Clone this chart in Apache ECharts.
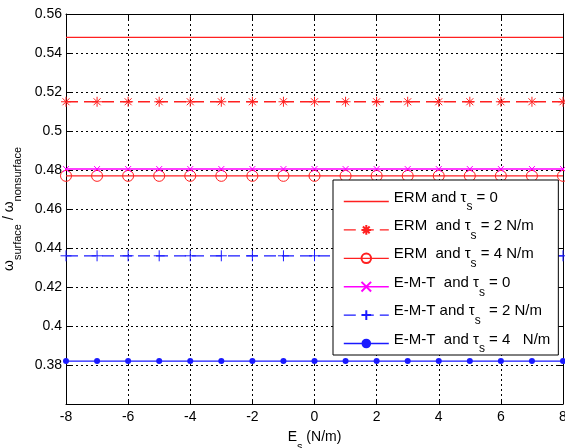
<!DOCTYPE html>
<html>
<head>
<meta charset="utf-8">
<script src="https://cdn.jsdelivr.net/npm/echarts@6/dist/echarts.min.js"></script>
<style>html,body{margin:0;padding:0;background:#fff;}#c{width:565px;height:448px;}</style>
</head>
<body>
<div id="c"></div>
<script>
const xValues = [-8, -7, -6, -5, -4, -3, -2, -1, 0, 1, 2, 3, 4, 5, 6, 7, 8];
const ermTau0 = [0.548, 0.548, 0.548, 0.548, 0.548, 0.548, 0.548, 0.548, 0.548, 0.548, 0.548, 0.548, 0.548, 0.548, 0.548, 0.548, 0.548];
const ermTau2 = [0.515, 0.515, 0.515, 0.515, 0.515, 0.515, 0.515, 0.515, 0.515, 0.515, 0.515, 0.515, 0.515, 0.515, 0.515, 0.515, 0.515];
const ermTau4 = [0.477, 0.477, 0.477, 0.477, 0.477, 0.477, 0.477, 0.477, 0.477, 0.477, 0.477, 0.477, 0.477, 0.477, 0.477, 0.477, 0.477];
const emtTau0 = [0.4805, 0.4805, 0.4805, 0.4805, 0.4805, 0.4805, 0.4805, 0.4805, 0.4805, 0.4805, 0.4805, 0.4805, 0.4805, 0.4805, 0.4805, 0.4805, 0.4805];
const emtTau2 = [0.436, 0.436, 0.436, 0.436, 0.436, 0.436, 0.436, 0.436, 0.436, 0.436, 0.436, 0.436, 0.436, 0.436, 0.436, 0.436, 0.436];
const emtTau4 = [0.382, 0.382, 0.382, 0.382, 0.382, 0.382, 0.382, 0.382, 0.382, 0.382, 0.382, 0.382, 0.382, 0.382, 0.382, 0.382, 0.382];
const seriesNames = ['ermTau0', 'ermTau2', 'ermTau4', 'emtTau0', 'emtTau2', 'emtTau4'];
const legendLabels = [
  '{t|ERM and }{g|τ}{s|s}{t| = 0}',
  '{t|ERM  and }{g|τ}{s|s}{t| = 2 N/m}',
  '{t|ERM  and }{g|τ}{s|s}{t| = 4 N/m}',
  '{t|E-M-T  and }{g|τ}{s|s}{t| = 0}',
  '{t|E-M-T and }{g|τ}{s|s}{t|  = 2 N/m}',
  '{t|E-M-T  and }{g|τ}{s|s}{t| = 4   N/m}'
];
const xTitle = '{t|E}{s|s}{t| (N/m)}';
const yTitle = '{g|ω}{s|surface}{t| / }{g|ω}{s|nonsurface}';

const FONT = '"Liberation Sans", Arial, Helvetica, sans-serif';
const RED = '#ff2020', MAG = '#ff00ff', BLUE = '#1a1aff';
const richStyles = (big, small) => ({
  t: {fontSize: big, fontFamily: FONT, color: '#000', lineHeight: big + 2, verticalAlign: 'top'},
  g: {fontSize: big, fontFamily: FONT, color: '#000', lineHeight: big + 2, verticalAlign: 'top'},
  s: {fontSize: small, fontFamily: FONT, color: '#000', lineHeight: big + 8, verticalAlign: 'bottom'}
});
const pairs = v => xValues.map((x, i) => [x, v[i]]);
const star = 'path://M5,0L5,10M0,5L10,5M1.5,1.5L8.5,8.5M8.5,1.5L1.5,8.5';
const plus = 'path://M5,0L5,10M0,5L10,5';
const cross = 'path://M0,0L10,10M10,0L0,10';

const styles = {
  ermTau0: {color: RED, width: 1.3, type: 'solid'},
  ermTau2: {color: RED, width: 1.3, type: [12, 6]},
  ermTau4: {color: RED, width: 1.3, type: 'solid'},
  emtTau0: {color: MAG, width: 1.6, type: 'solid'},
  emtTau2: {color: BLUE, width: 1.3, type: [12, 6]},
  emtTau4: {color: BLUE, width: 1.3, type: 'solid'}
};

const chart = echarts.init(document.getElementById('c'), null, {renderer: 'canvas'});
const axisCommon = {
  axisLine: {show: true, onZero: false, lineStyle: {color: '#000', width: 1}},
  axisTick: {show: true, inside: true, length: 5, lineStyle: {color: '#000'}},
};
chart.setOption({
  animation: false,
  backgroundColor: '#fff',
  grid: {left: 66, right: 2, top: 14, bottom: 44, containLabel: false, outerBoundsMode: 'none'},
  xAxis: [{
    type: 'value', min: -8, max: 8, interval: 2, position: 'bottom',
    ...axisCommon,
    axisLabel: {fontSize: 14, fontFamily: FONT, color: '#000', margin: 6, hideOverlap: false},
    splitLine: {show: true, lineStyle: {color: '#000', type: [2, 3], width: 1}},
    name: xTitle, nameLocation: 'middle', nameGap: 26,
    nameTextStyle: {rich: richStyles(14, 11)}
  }, {
    type: 'value', min: -8, max: 8, interval: 2, position: 'top',
    ...axisCommon, axisLabel: {show: false}, splitLine: {show: false}
  }],
  yAxis: [{
    type: 'value', min: 0.36, max: 0.56, interval: 0.02, position: 'left',
    ...axisCommon,
    axisLabel: {fontSize: 14, fontFamily: FONT, color: '#000', margin: 4,
      formatter: v => (Math.abs(v - 0.36) < 1e-6 ? '' : String(Math.round(v * 100) / 100))},
    splitLine: {show: true, lineStyle: {color: '#000', type: [2, 3], width: 1}},
    name: yTitle, nameLocation: 'middle', nameGap: 40, nameRotate: 90,
    nameTextStyle: {rich: richStyles(14, 11)}
  }, {
    type: 'value', min: 0.36, max: 0.56, interval: 0.02, position: 'right',
    ...axisCommon, axisLabel: {show: false}, splitLine: {show: false}
  }],
  legend: {
    orient: 'vertical', left: 333, top: 180,
    padding: [10, 8, 0, 10], itemGap: 5.4, itemWidth: 45, itemHeight: 12,
    backgroundColor: '#fff', borderColor: '#000', borderWidth: 1, borderRadius: 0,
    data: seriesNames.map(n => ({name: n, lineStyle: Object.assign({}, styles[n])})),
    formatter: name => legendLabels[seriesNames.indexOf(name)],
    textStyle: {rich: richStyles(15, 12)}
  },
  series: [
    {name: 'ermTau0', type: 'line', data: pairs(ermTau0), color: RED, showSymbol: false, symbol: 'circle', symbolSize: 0,
      itemStyle: {color: 'transparent', borderColor: 'transparent', borderWidth: 0}},
    {name: 'ermTau2', type: 'line', data: pairs(ermTau2), color: RED, symbol: star, symbolSize: 10,
      itemStyle: {color: 'transparent', borderColor: RED, borderWidth: 1}},
    {name: 'ermTau4', type: 'line', data: pairs(ermTau4), color: RED, symbol: 'circle', symbolSize: 11,
      itemStyle: {color: 'transparent', borderColor: RED, borderWidth: 1}},
    {name: 'emtTau0', type: 'line', data: pairs(emtTau0), color: MAG, symbol: cross, symbolSize: 6,
      itemStyle: {color: 'transparent', borderColor: MAG, borderWidth: 1}},
    {name: 'emtTau2', type: 'line', data: pairs(emtTau2), color: BLUE, symbol: plus, symbolSize: 11,
      itemStyle: {color: 'transparent', borderColor: BLUE, borderWidth: 1}},
    {name: 'emtTau4', type: 'line', data: pairs(emtTau4), color: BLUE, symbol: 'circle', symbolSize: 6,
      itemStyle: {color: BLUE, borderColor: BLUE, borderWidth: 0}}
  ].map(s => Object.assign(s, {lineStyle: styles[s.name], showAllSymbol: true, z: 3, emphasis: {disabled: true}}))
});
</script>
</body>
</html>
